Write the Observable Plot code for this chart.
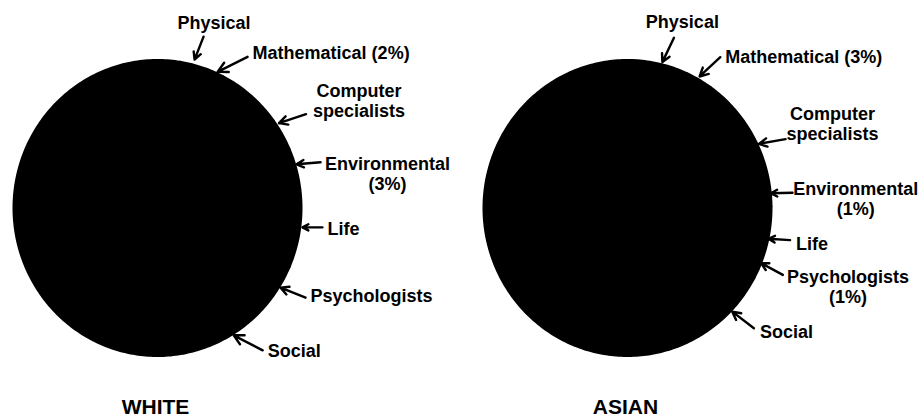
<!DOCTYPE html>
<html><head><meta charset="utf-8">
<script src="https://cdn.jsdelivr.net/npm/d3@7"></script>
<script src="https://cdn.jsdelivr.net/npm/@observablehq/plot@0.6"></script>
<style>body{margin:0;background:#fff;} #chart svg{display:block;}</style>
</head><body><div id="chart"></div>
<script>
// ---- data (percent shares, estimated; slice order clockwise) ----
const fields = ["Physical","Mathematical","Computer specialists","Environmental","Life","Psychologists","Social","Other"];
const groups = ["WHITE","ASIAN"];
const whiteShares = [3, 2, 11, 3, 10, 6, 8, 57];
const asianShares = [6, 3, 14, 1, 7, 1, 9, 59];
const whiteLabels = ["Physical","Mathematical (2%)","Computer\nspecialists","Environmental\n(3%)","Life","Psychologists","Social",null];
const asianLabels = ["Physical","Mathematical (3%)","Computer\nspecialists","Environmental\n(1%)","Life","Psychologists\n(1%)","Social",null];

// ---- layout (pixels / degrees) ----
const W = 919, H = 416, RX = 144, RY = 148, CY = 207.5;
const whiteLayout = [
  {nudge:0,  r:1.035, tail:[9,-23],  text:[19.5,-31], anchor:"middle"},
  {nudge:1,  r:1.01,  tail:[30,-15], text:[35,-13],   anchor:"start"},
  {nudge:9,  r:1.02,  tail:[27,-9],  text:[80,-6],    anchor:"middle"},
  {nudge:1,  r:1.01,  tail:[24,-2],  text:[91,26],    anchor:"middle"},
  {nudge:2,  r:1.015, tail:[20,0],   text:[25,8],     anchor:"start"},
  {nudge:-2, r:1.01,  tail:[25,10],  text:[30,14],    anchor:"start"},
  {nudge:-1, r:1.01,  tail:[29,15],  text:[34,22],    anchor:"start"}
];
const asianLayout = [
  {nudge:0,    r:1.015, tail:[11.6,-24.4], text:[20,-33.7], anchor:"middle"},
  {nudge:-0.6, r:1.02,  tail:[20.7,-19.3], text:[25.7,-13], anchor:"start"},
  {nudge:4,    r:1.01,  tail:[26.7,-4.7],  text:[73.7,-4],  anchor:"middle"},
  {nudge:-3.3, r:1.0,   tail:[21.7,-0.6],  text:[85,22],    anchor:"middle"},
  {nudge:0,    r:1.0,   tail:[21.7,1.4],   text:[27.7,11],  anchor:"start"},
  {nudge:-4.5, r:1.0,   tail:[21.7,11.7],  text:[87,40],    anchor:"middle"},
  {nudge:-0.5, r:1.01,  tail:[21.6,16.6],  text:[27.6,26],  anchor:"start"}
];
const pies = [
  {group: groups[0], shares: whiteShares, labels: whiteLabels, lay: whiteLayout, cx: 157, start: 9},
  {group: groups[1], shares: asianShares, labels: asianLabels, lay: asianLayout, cx: 627, start: 3}
];

const x0 = pies[0].cx;
const U = px => (px - x0) / RX;
const V = py => (CY - py) / RY;

const slices = [], arrows = [], texts = [], titles = [];
pies.forEach(p => {
  const cu = U(p.cx);
  const total = d3.sum(p.shares);
  let acc = 0;
  titles.push({text: p.group, u: cu - 2/RX, v: V(413)});
  p.shares.forEach((s, i) => {
    const a0 = p.start + acc / total * 360;
    const a1 = p.start + (acc + s) / total * 360;
    acc += s;
    const key = p.group + "-" + fields[i];
    const n = Math.max(2, Math.ceil(a1 - a0));
    slices.push({key, u: cu, v: 0});
    for (let k = 0; k <= n; k++) {
      const a = (a0 + (a1 - a0) * k / n) * Math.PI / 180;
      slices.push({key, u: cu + Math.sin(a), v: Math.cos(a)});
    }
    slices.push({key, u: cu, v: 0});
    const lab = p.labels[i];
    if (!lab) return;
    const L = p.lay[i];
    const am = ((a0 + a1) / 2 + L.nudge) * Math.PI / 180;
    const tu = cu + L.r * Math.sin(am), tv = L.r * Math.cos(am);
    arrows.push({x1: tu + L.tail[0] / RX, y1: tv - L.tail[1] / RY, x2: tu, y2: tv});
    texts.push({text: lab, anchor: L.anchor, u: tu + L.text[0] / RX, v: tv - L.text[1] / RY});
  });
});

const font = {fontSize: 18, fontWeight: "bold", lineHeight: 1.12, fill: "black", lineAnchor: "bottom"};
const chart = Plot.plot({
  width: W, height: H, margin: 0,
  x: {domain: [U(0), U(W)], axis: null},
  y: {domain: [V(H), V(0)], axis: null},
  style: {fontFamily: "'Liberation Sans', Arial, sans-serif", background: "white"},
  marks: [
    Plot.line(slices, {x: "u", y: "v", z: "key", fill: "black", stroke: "black", strokeWidth: 2, strokeLinejoin: "round"}),
    Plot.arrow(arrows, {x1: "x1", y1: "y1", x2: "x2", y2: "y2", stroke: "black", strokeWidth: 2.4, headLength: 7, headAngle: 55}),
    Plot.text(texts.filter(d => d.anchor === "start"), {x: "u", y: "v", text: "text", textAnchor: "start", ...font}),
    Plot.text(texts.filter(d => d.anchor === "middle"), {x: "u", y: "v", text: "text", textAnchor: "middle", ...font}),
    Plot.text(titles, {x: "u", y: "v", text: "text", textAnchor: "middle", lineAnchor: "bottom", fontSize: 21, fontWeight: "bold", fill: "black"})
  ]
});
document.getElementById("chart").appendChild(chart);
</script>
</body></html>
